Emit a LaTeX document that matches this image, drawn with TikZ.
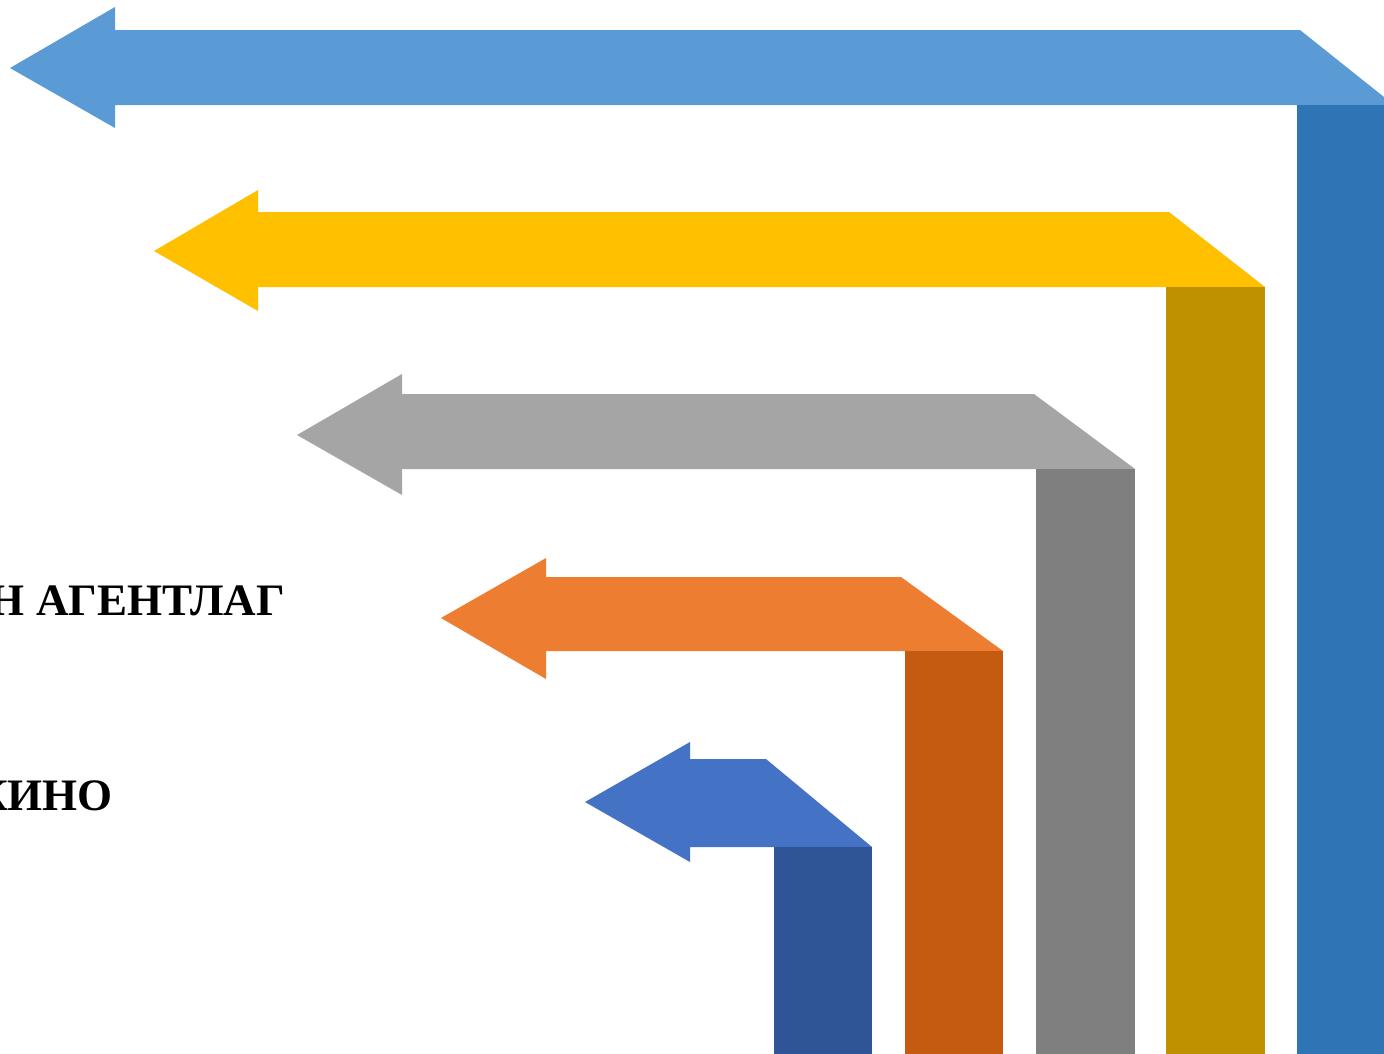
\documentclass[tikz,border=0pt]{standalone}
\usepackage{fontspec}
\setmainfont{Liberation Serif}
\definecolor{cA}{HTML}{5B9BD5}\definecolor{cAd}{HTML}{2E75B6}
\definecolor{cB}{HTML}{FFC000}\definecolor{cBd}{HTML}{BF9000}
\definecolor{cC}{HTML}{A5A5A5}\definecolor{cCd}{HTML}{7F7F7F}
\definecolor{cD}{HTML}{ED7D31}\definecolor{cDd}{HTML}{C55A11}
\definecolor{cE}{HTML}{4472C4}\definecolor{cEd}{HTML}{2F5597}
\tikzset{label text/.style={font=\fontsize{45}{50}\selectfont\bfseries, inner sep=0pt, anchor=base east}}
\begin{document}
\begin{tikzpicture}[x=1pt,y=-1pt]
\useasboundingbox (0,0) rectangle (1384,1053);
\clip (0,0) rectangle (1384,1053);
\fill[white] (0,0) rectangle (1384,1053);
% arrow 1
\fill[cA] (10,68) -- (115,7) -- (115,30) -- (1300,30) -- (1394,105) -- (115,105) -- (115,128) -- cycle;
\fill[cAd] (1297,105) rectangle (1394,1060);
% arrow 2
\fill[cB] (154,251) -- (258,190) -- (258,212) -- (1169,212) -- (1265,287) -- (258,287) -- (258,311) -- cycle;
\fill[cBd] (1166,287) rectangle (1265,1060);
% arrow 3
\fill[cC] (297,435) -- (402,374) -- (402,394) -- (1034,394) -- (1135,469) -- (402,469) -- (402,495) -- cycle;
\fill[cCd] (1036,469) rectangle (1135,1060);
% arrow 4
\fill[cD] (441,618) -- (546,558) -- (546,577) -- (901,577) -- (1003,651) -- (546,651) -- (546,679) -- cycle;
\fill[cDd] (905,651) rectangle (1003,1060);
% arrow 5
\fill[cE] (585,802) -- (690,742) -- (690,759) -- (766,759) -- (872,847) -- (690,847) -- (690,862) -- cycle;
\fill[cEd] (774,847) rectangle (872,1060);
% texts
\node[label text] (t1) at (285,615) {ИН АГЕНТЛАГ};
\node[label text] (t2) at (113,810) {КИНО};
\end{tikzpicture}
\end{document}
